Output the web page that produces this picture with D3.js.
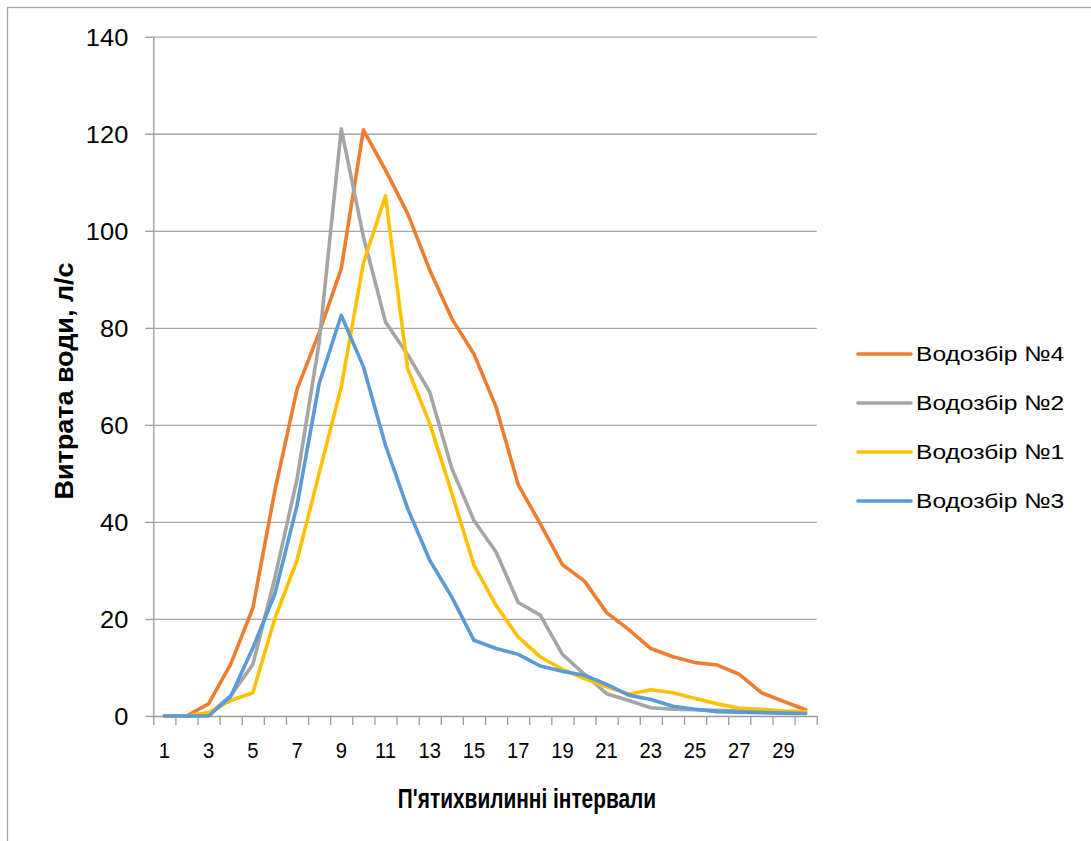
<!DOCTYPE html>
<html>
<head>
<meta charset="utf-8">
<script src="https://cdn.jsdelivr.net/npm/d3@7/dist/d3.min.js"></script>
<style>
  html, body { margin: 0; padding: 0; background: #fff; }
  svg { display: block; }
</style>
</head>
<body>
<svg id="chart" width="1091" height="841"></svg>
<script>
// Five-minute intervals 1..30
const intervals = d3.range(1, 31);
const xTickLabels = [1, 3, 5, 7, 9, 11, 13, 15, 17, 19, 21, 23, 25, 27, 29];
const yTickValues = [0, 20, 40, 60, 80, 100, 120, 140];

// Water discharge, l/s, per catchment
const catchment4 = [0, 0, 2.5, 10.7, 22.2, 46.5, 67.3, 79, 92.2, 120.8, 112.5, 103.6, 91.9, 81.9, 74.6,
                    63.7, 47.7, 39.6, 31.2, 27.8, 21.3, 17.8, 13.9, 12.2, 11.0, 10.5, 8.6, 4.8, 3.0, 1.3];
const catchment2 = [0, 0, 0.3, 4.2, 10.6, 28.5, 48.8, 77, 121, 98.8, 81.2, 74.5, 66.8, 51, 40.3,
                    33.8, 23.4, 20.8, 12.7, 8.6, 4.6, 3.2, 1.7, 1.4, 1.3, 1.2, 1.0, 0.8, 0.7, 0.6];
const catchment1 = [0, 0, 0.7, 3.2, 4.8, 20.1, 32.1, 50, 67.8, 93.3, 107.2, 71.6, 60.3, 45.9, 31.1,
                    22.8, 16.3, 12.2, 9.6, 7.7, 6.0, 4.5, 5.4, 4.8, 3.6, 2.5, 1.6, 1.4, 1.0, 0.9];
const catchment3 = [0, 0, 0, 4.0, 14, 25.2, 43.4, 68.5, 82.6, 72.0, 55.8, 42.8, 32.1, 24.5, 15.6,
                    13.9, 12.7, 10.3, 9.2, 8.4, 6.5, 4.3, 3.4, 2.0, 1.4, 0.9, 0.8, 0.7, 0.6, 0.5];

const seriesNames = ["Водозбір №4", "Водозбір №2", "Водозбір №1", "Водозбір №3"];
const seriesColors = ["#ED7D31", "#A5A5A5", "#FFC000", "#5B9BD5"];
const seriesValues = [catchment4, catchment2, catchment1, catchment3];

const yTitle = "Витрата води, л/с";
const xTitle = "П'ятихвилинні інтервали";

const FONT = "'Liberation Sans', Arial, sans-serif";
const svg = d3.select("#chart");

// chart frame
svg.append("rect")
  .attr("x", 7.5).attr("y", 7.5)
  .attr("width", 1100).attr("height", 850)
  .attr("fill", "none").attr("stroke", "#a6a6a6").attr("stroke-width", 1.3);

const plot = { left: 153.3, right: 816.7, top: 36.7, bottom: 716 };

const x = d3.scaleBand().domain(intervals).range([plot.left, plot.right]);
const xCenter = d => x(d) + x.bandwidth() / 2;
const y = d3.scaleLinear().domain([0, 140]).range([plot.bottom, plot.top]);

// horizontal gridlines
svg.append("g")
  .attr("transform", `translate(${plot.left},0)`)
  .call(d3.axisLeft(y).tickValues(yTickValues.filter(v => v > 0)).tickSize(-(plot.right - plot.left)).tickFormat(""))
  .call(g => g.select(".domain").remove())
  .call(g => g.selectAll("line").attr("stroke", "#a6a6a6").attr("stroke-width", 1.3));

// y axis with tick labels (slightly widened glyphs, right edge kept at x = -25)
const yLabelStretch = 1.06;
svg.append("g")
  .attr("transform", `translate(${plot.left},0)`)
  .call(d3.axisLeft(y).tickValues(yTickValues).tickSize(8).tickPadding(17).tickSizeOuter(0))
  .call(g => g.select(".domain").attr("stroke", "#9a9a9a").attr("stroke-width", 1.3))
  .call(g => g.selectAll("line").attr("stroke", "#9a9a9a").attr("stroke-width", 1.3))
  .call(g => g.selectAll("text")
      .attr("fill", "#000")
      .attr("x", -25 / yLabelStretch)
      .attr("transform", `scale(${yLabelStretch},1)`)
      .style("font-family", FONT)
      .style("font-size", "24px")
      .attr("dy", "0.35em"));

// x axis line and category boundary ticks
const xEdges = d3.scaleLinear().domain([0, intervals.length]).range([plot.left, plot.right]);
svg.append("g")
  .attr("transform", `translate(0,${plot.bottom})`)
  .call(d3.axisBottom(xEdges).tickValues(d3.range(0, intervals.length + 1)).tickSize(9).tickFormat("").tickSizeOuter(0))
  .call(g => g.select(".domain").attr("stroke", "#9a9a9a").attr("stroke-width", 1.3))
  .call(g => g.selectAll("line").attr("stroke", "#9a9a9a").attr("stroke-width", 1.3));

// x tick labels
svg.append("g")
  .attr("transform", `translate(0,${plot.bottom})`)
  .call(d3.axisBottom(x).tickValues(xTickLabels).tickSize(0).tickPadding(26))
  .call(g => g.select(".domain").remove())
  .call(g => g.selectAll("text")
      .attr("fill", "#000")
      .attr("transform", "scale(0.92,1)")
      .style("font-family", FONT)
      .style("font-size", "22px"));

// series lines
const line = d3.line()
  .x((d, i) => xCenter(intervals[i]))
  .y(d => y(d));

svg.append("g")
  .selectAll("path")
  .data(seriesValues)
  .join("path")
  .attr("d", d => line(d))
  .attr("fill", "none")
  .attr("stroke", (d, i) => seriesColors[i])
  .attr("stroke-width", 3.6)
  .attr("stroke-linejoin", "round")
  .attr("stroke-linecap", "round");

// legend
const legend = svg.append("g");
const legendRows = [354, 403, 452, 501];
seriesNames.forEach((name, i) => {
  const row = legend.append("g").attr("transform", `translate(0,${legendRows[i]})`);
  row.append("line")
    .attr("x1", 858).attr("x2", 911).attr("y1", 0).attr("y2", 0)
    .attr("stroke", seriesColors[i]).attr("stroke-width", 3.6).attr("stroke-linecap", "round");
  row.append("text")
    .attr("x", 0).attr("y", 0).attr("dy", "0.35em")
    .attr("transform", "translate(916,0) scale(1.17,1)")
    .style("font-family", FONT)
    .style("font-size", "21px")
    .attr("fill", "#000")
    .text(name);
});

// axis titles
svg.append("text")
  .attr("transform", "translate(64,381) rotate(-90) scale(1.08,1)")
  .attr("text-anchor", "middle")
  .attr("dy", "0.35em")
  .style("font-family", FONT)
  .style("font-weight", "bold")
  .style("font-size", "25px")
  .attr("fill", "#000")
  .text(yTitle);

svg.append("text")
  .attr("transform", "translate(527,798) scale(0.745,1)")
  .attr("text-anchor", "middle")
  .attr("dy", "0.35em")
  .style("font-family", FONT)
  .style("font-weight", "bold")
  .style("font-size", "28px")
  .attr("fill", "#000")
  .text(xTitle);
</script>
</body>
</html>
